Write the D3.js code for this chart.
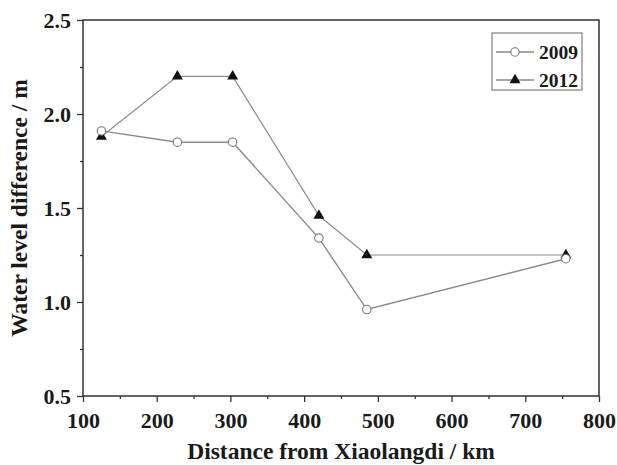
<!DOCTYPE html>
<html>
<head>
<meta charset="utf-8">
<script src="https://cdn.jsdelivr.net/npm/d3@7"></script>
<style>
  body { margin: 0; background: #fff; }
  text { font-family: "Liberation Serif", "Times New Roman", serif; font-weight: bold; fill: #1a1a1a; }
</style>
</head>
<body>
<div id="chart"></div>
<script>
// distance from Xiaolangdi (km)
var distance = [125, 228, 303, 420, 485, 755];
var level2009 = [1.91, 1.85, 1.85, 1.34, 0.96, 1.23];
var level2012 = [1.88, 2.20, 2.20, 1.46, 1.25, 1.25];
var xTicks = [100, 200, 300, 400, 500, 600, 700, 800];
var yTicks = [0.5, 1.0, 1.5, 2.0, 2.5];

var margin = { top: 20, right: 18, bottom: 69, left: 83 };
var W = 617, H = 465;
var width = W - margin.left - margin.right;
var height = H - margin.top - margin.bottom;

var svg = d3.select('#chart').append('svg')
  .attr('width', W).attr('height', H);
var g = svg.append('g')
  .attr('transform', 'translate(' + margin.left + ',' + margin.top + ')');

var x = d3.scaleLinear().domain([100, 800]).range([0, width]);
var y = d3.scaleLinear().domain([0.5, 2.5]).range([height, 0]);

// frame
g.append('rect').attr('width', width).attr('height', height)
  .attr('fill', 'none').attr('stroke', '#333').attr('stroke-width', 1.5);

// minor ticks
g.append('g').attr('transform', 'translate(0,' + height + ')')
  .call(d3.axisBottom(x).tickValues(d3.range(150, 800, 100)).tickSize(3).tickFormat(''))
  .call(a => a.select('.domain').remove());
g.append('g')
  .call(d3.axisLeft(y).tickValues([0.75, 1.25, 1.75, 2.25]).tickSize(3).tickFormat(''))
  .call(a => a.select('.domain').remove());

// major ticks
var xAxis = g.append('g').attr('transform', 'translate(0,' + height + ')')
  .call(d3.axisBottom(x).tickValues(xTicks).tickSize(6).tickPadding(10).tickFormat(d3.format('d')));
var yAxis = g.append('g')
  .call(d3.axisLeft(y).tickValues(yTicks).tickSize(6).tickPadding(6).tickFormat(d3.format('.1f')));
[xAxis, yAxis].forEach(function (a) {
  a.select('.domain').remove();
  a.selectAll('text').style('font-size', '22px');
});
g.selectAll('.tick line').attr('stroke', '#333').attr('stroke-width', 1.3);

// axis titles
g.append('text').attr('x', width / 2).attr('y', height + 63)
  .attr('text-anchor', 'middle').style('font-size', '23.5px')
  .text('Distance from Xiaolangdi / km');
g.append('text').attr('transform', 'rotate(-90)')
  .attr('x', -height / 2).attr('y', -56)
  .attr('text-anchor', 'middle').style('font-size', '23.5px')
  .text('Water level difference / m');

var line = d3.line().x(d => x(d[0])).y(d => y(d[1]));
var s2009 = distance.map((d, i) => [d, level2009[i]]);
var s2012 = distance.map((d, i) => [d, level2012[i]]);

g.append('path').datum(s2009).attr('d', line)
  .attr('fill', 'none').attr('stroke', '#8a8a8a').attr('stroke-width', 1.4);
g.append('path').datum(s2012).attr('d', line)
  .attr('fill', 'none').attr('stroke', '#8a8a8a').attr('stroke-width', 1.2);

var tri = d3.symbol().type(d3.symbolTriangle).size(52);

g.selectAll('.p2012').data(s2012).enter().append('path')
  .attr('transform', d => 'translate(' + x(d[0]) + ',' + y(d[1]) + ')')
  .attr('d', tri).attr('fill', '#111');
g.selectAll('.p2009').data(s2009).enter().append('circle')
  .attr('cx', d => x(d[0])).attr('cy', d => y(d[1])).attr('r', 4.2)
  .attr('fill', '#fff').attr('stroke', '#777').attr('stroke-width', 1.1);

// legend
var lg = g.append('g').attr('transform', 'translate(' + (492 - margin.left) + ',' + (33 - margin.top) + ')');
lg.append('rect').attr('width', 90).attr('height', 57)
  .attr('fill', '#fff').attr('stroke', '#666').attr('stroke-width', 1);
var rows = [{ label: '2009', yy: 19 }, { label: '2012', yy: 47 }];
rows.forEach(function (r, i) {
  lg.append('line').attr('x1', 4).attr('x2', 42).attr('y1', r.yy).attr('y2', r.yy)
    .attr('stroke', '#8a8a8a').attr('stroke-width', 1.3);
  if (i === 0) {
    lg.append('circle').attr('cx', 23).attr('cy', r.yy).attr('r', 4.2)
      .attr('fill', '#fff').attr('stroke', '#777').attr('stroke-width', 1.1);
  } else {
    lg.append('path').attr('transform', 'translate(23,' + r.yy + ')')
      .attr('d', tri).attr('fill', '#111');
  }
  lg.append('text').attr('x', 47).attr('y', r.yy + 7).style('font-size', '19.5px').text(r.label);
});
</script>
</body>
</html>
